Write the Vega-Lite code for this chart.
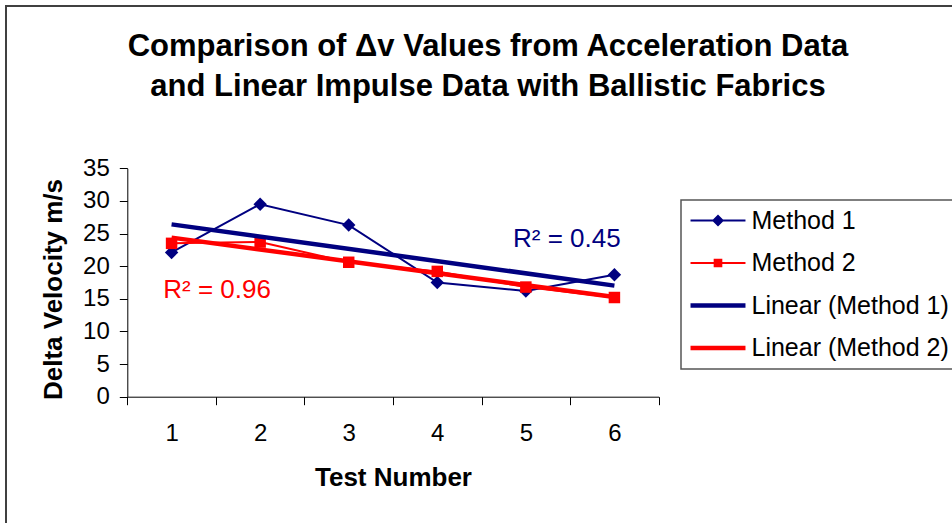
{
  "$schema": "https://vega.github.io/schema/vega-lite/v6.json",
  "width": 952,
  "height": 523,
  "autosize": {"type": "none"},
  "padding": {"left": 6, "top": 6, "right": 0, "bottom": 0},
  "background": "white",
  "title": {
    "text": ["Comparison of Δv Values from Acceleration Data", "and Linear Impulse Data with Ballistic Fabrics"],
    "anchor": "middle",
    "frame": "group",
    "orient": "top",
    "offset": -121,
    "baseline": "alphabetic",
    "dx": 6,
    "font": "Liberation Sans",
    "fontSize": 31,
    "fontWeight": "bold",
    "color": "black",
    "lineHeight": 40
  },
  "datasets": {
    "main": [
      {"test": 1, "value": 22.1, "series": "Method 1", "trend": "Linear (Method 1)"},
      {"test": 2, "value": 29.5, "series": "Method 1", "trend": "Linear (Method 1)"},
      {"test": 3, "value": 26.3, "series": "Method 1", "trend": "Linear (Method 1)"},
      {"test": 4, "value": 17.5, "series": "Method 1", "trend": "Linear (Method 1)"},
      {"test": 5, "value": 16.2, "series": "Method 1", "trend": "Linear (Method 1)"},
      {"test": 6, "value": 18.7, "series": "Method 1", "trend": "Linear (Method 1)"},
      {"test": 1, "value": 23.5, "series": "Method 2", "trend": "Linear (Method 2)"},
      {"test": 2, "value": 23.7, "series": "Method 2", "trend": "Linear (Method 2)"},
      {"test": 3, "value": 20.6, "series": "Method 2", "trend": "Linear (Method 2)"},
      {"test": 4, "value": 19.2, "series": "Method 2", "trend": "Linear (Method 2)"},
      {"test": 5, "value": 16.8, "series": "Method 2", "trend": "Linear (Method 2)"},
      {"test": 6, "value": 15.2, "series": "Method 2", "trend": "Linear (Method 2)"}
    ],
    "labels": [
      {"test": 4.855, "value": 22.98, "series": "Method 1", "text": "R² = 0.45"},
      {"test": 0.906, "value": 15.17, "series": "Method 2", "text": "R² = 0.96"}
    ]
  },
  "encoding": {
    "x": {
      "field": "test",
      "type": "quantitative",
      "scale": {"domain": [0.5, 6.5], "range": [121.3, 652.7], "nice": false, "zero": false},
      "axis": {
        "title": "Test Number",
        "values": [0.5, 1, 1.5, 2, 2.5, 3, 3.5, 4, 4.5, 5, 5.5, 6, 6.5],
        "labelExpr": "datum.value % 1 === 0 ? format(datum.value, 'd') : ''",
        "tickOpacity": {"condition": {"test": "datum.value % 1 === 0", "value": 0}, "value": 1},
        "tickSize": 8,
        "labelPadding": 17,
        "labelOverlap": false,
        "labelFlush": false,
        "grid": false,
        "offset": -132.3,
        "titlePadding": 19,
        "titleFontSize": 26
      }
    },
    "y": {
      "field": "value",
      "type": "quantitative",
      "scale": {"domain": [0, 35], "range": [390.7, 162.3], "nice": false, "zero": false},
      "axis": {
        "title": "Delta Velocity m/s",
        "values": [0, 5, 10, 15, 20, 25, 30, 35],
        "tickSize": 8,
        "labelPadding": 10,
        "grid": false,
        "offset": -121.3,
        "titlePadding": 16,
        "titleFontSize": 26,
        "titleY": 283
      }
    }
  },
  "resolve": {"legend": {"color": "independent", "shape": "independent"}},
  "layer": [
    {
      "data": {"name": "main"},
      "mark": {"type": "line", "strokeWidth": 2},
      "encoding": {
        "color": {
          "field": "series", "type": "nominal", "legend": null,
          "scale": {"domain": ["Method 1", "Method 2", "Linear (Method 1)", "Linear (Method 2)"], "range": ["#000080", "#FF0000", "#000080", "#FF0000"]}
        }
      }
    },
    {
      "data": {"name": "main"},
      "transform": [{"filter": "datum.series === 'Method 1'"}],
      "mark": {"type": "point", "shape": "diamond", "filled": true, "size": 180, "opacity": 1},
      "encoding": {
        "color": {"field": "series", "type": "nominal", "legend": null}
      }
    },
    {
      "data": {"name": "main"},
      "transform": [{"filter": "datum.series === 'Method 2'"}],
      "mark": {"type": "point", "shape": "square", "filled": true, "size": 132, "opacity": 1},
      "encoding": {
        "color": {"field": "series", "type": "nominal", "legend": null}
      }
    },
    {
      "data": {"name": "main"},
      "transform": [{"regression": "value", "on": "test", "groupby": ["trend"], "extent": [1, 6]}],
      "mark": {"type": "line", "strokeWidth": 4.5},
      "encoding": {
        "color": {"field": "trend", "type": "nominal", "legend": null}
      }
    },
    {
      "data": {"name": "labels"},
      "mark": {"type": "text", "align": "left", "baseline": "alphabetic", "font": "Liberation Sans", "fontSize": 26},
      "encoding": {
        "text": {"field": "text", "type": "nominal"},
        "color": {"field": "series", "type": "nominal", "legend": null}
      }
    },
    {
      "data": {"name": "main"},
      "transform": [{"filter": "datum.value < 0"}],
      "mark": {"type": "point", "filled": true, "opacity": 1},
      "encoding": {
        "color": {
          "field": "series", "type": "nominal",
          "scale": {"domain": ["Method 1", "Method 2", "Linear (Method 1)", "Linear (Method 2)"], "range": ["#000080", "#FF0000", "#000080", "#FF0000"]},
          "legend": {"orient": "none", "legendX": 675, "legendY": 194, "title": null}
        },
        "shape": {
          "field": "series", "type": "nominal",
          "scale": {
            "domain": ["Method 1", "Method 2", "Linear (Method 1)", "Linear (Method 2)"],
            "range": [
              "M-2.29,-0.08H2.29V0.08H-2.29ZM0,-0.5L0.5,0L0,0.5L-0.5,0Z",
              "M-2.29,-0.08H2.29V0.08H-2.29ZM-0.36,-0.36H0.36V0.36H-0.36Z",
              "M-2.29,-0.18H2.29V0.18H-2.29Z",
              "M-2.29,-0.18H2.29V0.18H-2.29Z"
            ]
          },
          "legend": {"orient": "none", "legendX": 675, "legendY": 194, "title": null}
        }
      }
    }
  ],
  "config": {
    "view": {"stroke": "#404040", "strokeWidth": 2, "fill": "white"},
    "axis": {
      "labelFont": "Liberation Sans",
      "labelFontSize": 24,
      "labelColor": "black",
      "titleFont": "Liberation Sans",
      "titleFontSize": 24,
      "titleFontWeight": "bold",
      "titleColor": "black",
      "domainColor": "black",
      "tickColor": "black",
      "domainWidth": 1,
      "tickWidth": 1
    },
    "legend": {
      "labelFont": "Liberation Sans",
      "labelFontSize": 25,
      "labelColor": "black",
      "labelLimit": 0,
      "symbolSize": 576,
      "symbolStrokeWidth": 0,
      "symbolOpacity": 1,
      "symbolOffset": 16.5,
      "labelOffset": 21,
      "rowPadding": 16.5,
      "padding": 8,
      "strokeColor": "#555555",
      "strokeWidth": 1.5,
      "fillColor": "white"
    }
  }
}
